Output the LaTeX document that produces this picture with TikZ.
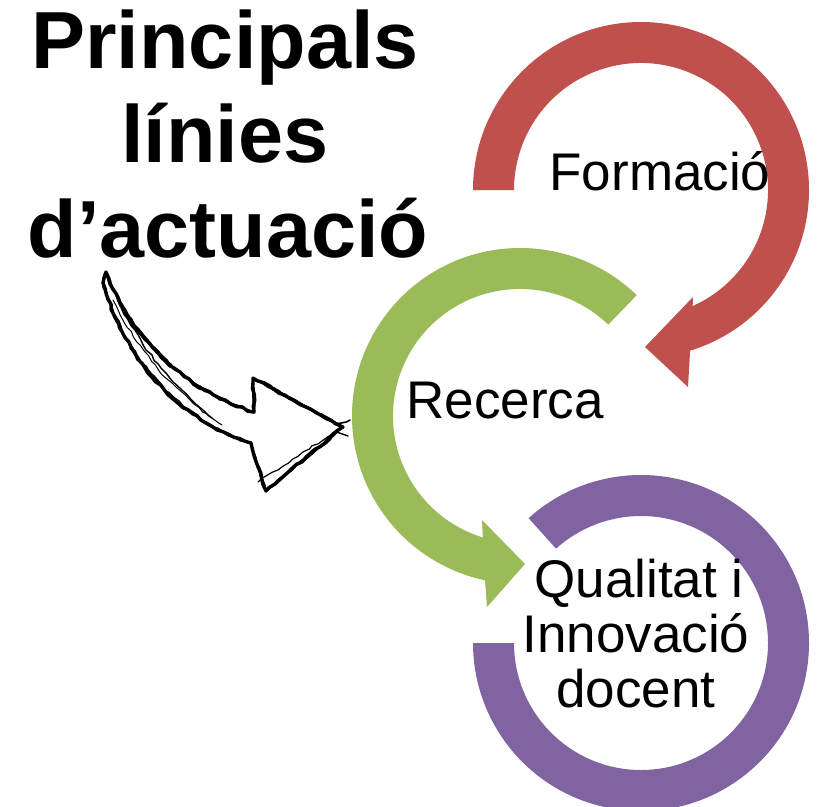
\documentclass[tikz,border=0pt]{standalone}
\usepackage{fontspec}
\setmainfont{Liberation Sans}
\usetikzlibrary{calc,decorations.pathmorphing}
\definecolor{ringred}{HTML}{C0504D}
\definecolor{ringgreen}{HTML}{9BBB59}
\definecolor{ringpurple}{HTML}{8064A2}
\begin{document}
\begin{tikzpicture}[x=1pt,y=1pt,
  lbl/.style={font=\fontsize{53}{60}\selectfont, inner sep=0pt, anchor=base},
  ttl/.style={font=\fontsize{81}{90}\selectfont\bfseries, inner sep=0pt, anchor=base},
  sketchline/.style={line join=round, line cap=round, decorate,
    decoration={random steps, segment length=6pt, amplitude=1.1pt}}]
\pgfmathsetseed{7}
\useasboundingbox (0,0) rectangle (818,-806);
\fill[white] (0,0) rectangle (818,-806);

% ring centres
\coordinate (cr) at (641,-190);
\coordinate (cg) at (520,-416);
\coordinate (cp) at (641,-643);

% red circular arrow (Formació)
\fill[ringred] ($(cr)+(180:168)$) arc[start angle=180, end angle=-73, radius=168]
  -- (688,-387) -- (645,-347) -- (693,-297)
  -- ($(cr)+(-66:127)$) arc[start angle=-66, end angle=180, radius=127] -- cycle;

% green circular arrow (Recerca)
\fill[ringgreen] ($(cg)+(46:168)$) arc[start angle=46, end angle=258, radius=168]
  -- (487,-607) -- (525,-564) -- (482,-520)
  -- ($(cg)+(253:127)$) arc[start angle=253, end angle=46, radius=127] -- cycle;

% purple ring (Qualitat i Innovació docent)
\fill[ringpurple] ($(cp)+(132:168)$) arc[start angle=132, end angle=-180, radius=168]
  -- ($(cp)+(180:127)$) arc[start angle=-180, end angle=132, radius=127] -- cycle;

% labels
\node[lbl] (form) at (660,-190) {Formació};
\node[lbl] (rec) at (505,-418) {Recerca};
\node[lbl] (q1) at (639,-597) {Qualitat i};
\node[lbl] (q2) at (636,-652) {Innovació};
\node[lbl] (q3) at (636,-707) {docent};

% title
\node[ttl] (t1) at (225,-68) {Principals};
\node[ttl] (t2) at (225,-162) {línies};
\node[ttl] (t3) at (228,-257) {d’actuació};

% hand-drawn arrow from title towards Recerca
\coordinate (tailA) at (106,-272);
\coordinate (tailB) at (103,-283);
\coordinate (notchU) at (254,-412);
\coordinate (barbU) at (253,-378);
\coordinate (tip) at (343,-427);
\coordinate (barbL) at (266,-491);
\coordinate (notchL) at (251,-443);
\foreach \dx/\dy/\lw in {0/0/3.4, 1.8/-1.4/2.0, -1.5/1.5/1.6, 0.8/1.0/1.2} {
  \draw[sketchline, line width=\lw pt, shift={(\dx,\dy)}]
    (tailA) .. controls (122,-318) and (168,-385) .. (notchU)
    -- (barbU) -- (tip) -- (barbL) -- (notchL)
    .. controls (178,-420) and (124,-358) .. (tailB) -- cycle;
}
\draw[sketchline, line width=1.4pt] (108,-276) .. controls (128,-330) and (160,-375) .. (212,-418);
\draw[sketchline, line width=1.0pt] (113,-300) .. controls (135,-345) and (165,-385) .. (222,-425);
\draw[sketchline, line width=1.2pt] (258,-482) -- (335,-432);
\draw[sketchline, line width=1.6pt] (334,-424) -- (350,-420);
\draw[sketchline, line width=1.4pt] (336,-432) -- (348,-436);
\end{tikzpicture}
\end{document}
